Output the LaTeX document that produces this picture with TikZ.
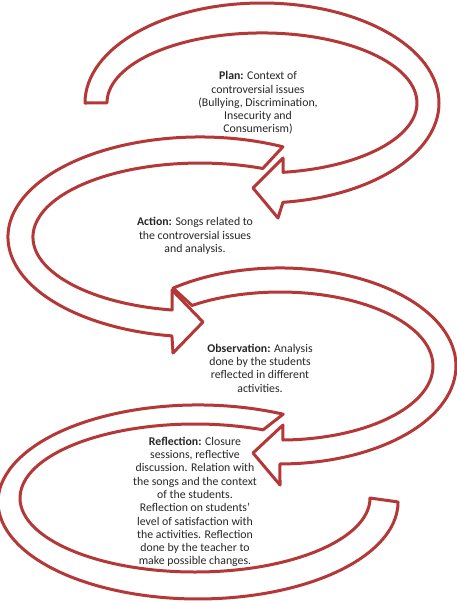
\documentclass[tikz,border=0pt]{standalone}
\usepackage{fontspec}
\setmainfont{Carlito}
\usepackage{tikz}

\definecolor{loopred}{RGB}{180,56,56}

\begin{document}
\begin{tikzpicture}[
  % pixel-like units, y pointing down
  x=1pt, y=1pt, yscale=-1,
  band/.style={draw=loopred, line width=3pt, fill=white, line join=round},
  stage/.style={align=center, font=\fontsize{11.8}{13.3}\selectfont, text=black!85}
]
  \useasboundingbox (0,0) rectangle (457,603);

  % Plan loop (top)
  \draw[band] (85,103) arc[start angle=180, end angle=443.2, x radius=177, y radius=100]
    -- (278,218) -- (253,188) -- (283,158) -- (283,172.3)
    arc[start angle=442.2, end angle=180, x radius=155, y radius=70] -- cycle;

  % Action loop
  \draw[band] (282.9,146.8) arc[start angle=295.6, end angle=98.4, x radius=192, y radius=100]
    -- (173,353) -- (203,322) -- (172,290) -- (172.1,310)
    arc[start angle=99.6, end angle=292.1, x radius=167, y radius=74] -- cycle;

  % Observation loop
  \draw[band] (173.1,288.1) arc[start angle=232.6, end angle=450, x radius=176, y radius=98]
    -- (280,485) -- (253,453) -- (283,425) -- (282.9,440)
    arc[start angle=448.9, end angle=234.9, x radius=153, y radius=74] -- cycle;

  % Reflection loop (bottom)
  \draw[band] (283.2,414.2) arc[start angle=295.2, end angle=0, x radius=200, y radius=97]
    -- (370,498)
    arc[start angle=0, end angle=292.9, x radius=175, y radius=74] -- cycle;

  % Stage texts
  \node[stage] (plan) at (258,103) {\textbf{Plan:} Context of\\controversial issues\\(Bullying, Discrimination,\\Insecurity and\\Consumerism)};
  \node[stage] (action) at (195,236) {\textbf{Action:} Songs related to\\the controversial issues\\and analysis.};
  \node[stage] (observation) at (260,368) {\textbf{Observation:} Analysis\\done by the students\\reflected in different\\activities.};
  \node[stage] (reflection) at (195,502) {\textbf{Reflection:} Closure\\sessions, reflective\\discussion. Relation with\\the songs and the context\\of the students.\\Reflection on students'\\level of satisfaction with\\the activities. Reflection\\done by the teacher to\\make possible changes.};
\end{tikzpicture}
\end{document}
